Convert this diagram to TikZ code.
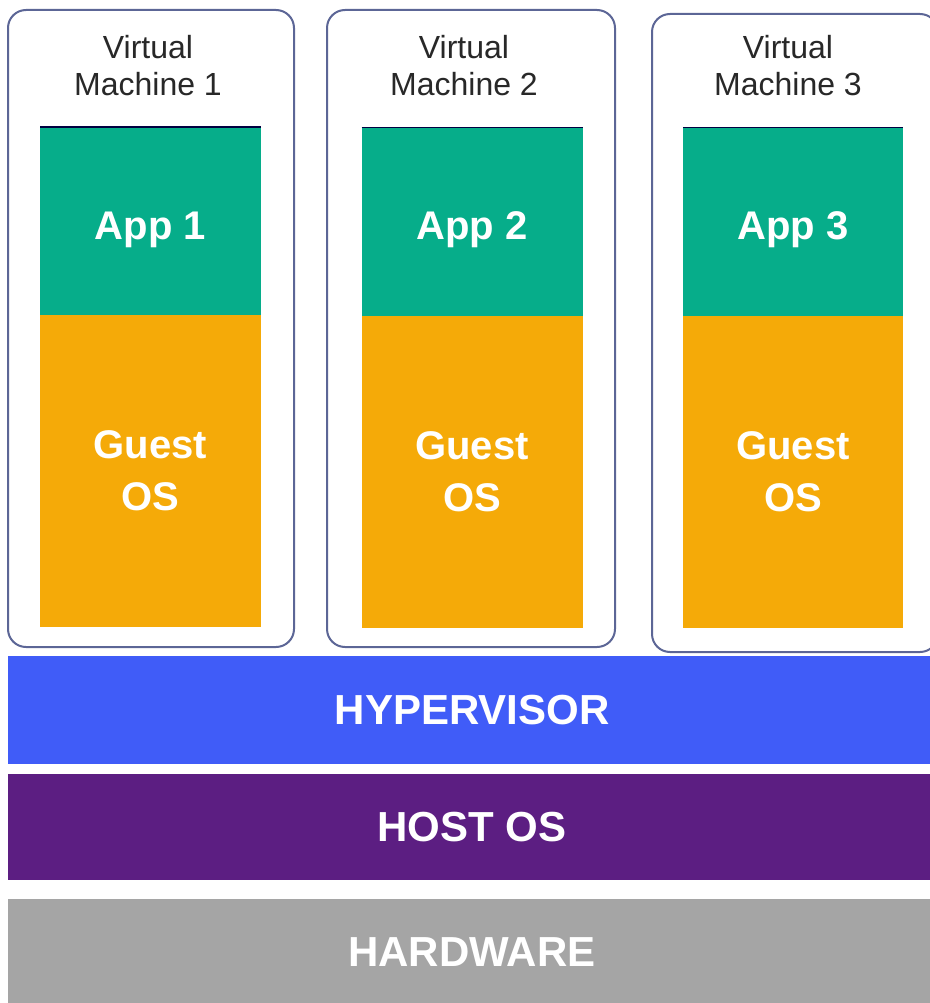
\documentclass[tikz,border=0pt]{standalone}
\usepackage{fontspec}
\setmainfont{Liberation Sans}
\usetikzlibrary{positioning}
\definecolor{vmedge}{RGB}{92,102,150}
\definecolor{titlegray}{RGB}{40,40,40}
\definecolor{appgreen}{RGB}{6,173,138}
\definecolor{osorange}{RGB}{245,170,8}
\definecolor{hypblue}{RGB}{64,92,248}
\definecolor{hostpurple}{RGB}{92,30,130}
\definecolor{hwgray}{RGB}{165,165,165}

\begin{document}
\begin{tikzpicture}[x=1pt,y=-1pt,
        vmbox/.style={draw=vmedge, line width=2pt, rounded corners=18pt, fill=white, inner sep=0pt, outer sep=0pt},
        vmtitle/.style={text=titlegray, font=\fontsize{32}{37}\selectfont, align=center, inner sep=0pt, anchor=north},
        appbox/.style={fill=appgreen, text=white, font=\fontsize{40}{46}\selectfont\bfseries, minimum width=221pt, minimum height=188pt, inner sep=0pt, outer sep=0pt, text height=36pt, text depth=0pt},
        osbox/.style={fill=osorange, text=white, font=\fontsize{40}{52}\selectfont\bfseries, align=center, minimum width=221pt, minimum height=312pt, inner sep=0pt, outer sep=0pt, text depth=0pt},
        appedge/.style={line width=1.5pt, draw=black!75!blue},
        layer/.style={text=white, font=\fontsize{42}{48}\selectfont\bfseries, minimum width=928pt, inner sep=0pt, outer sep=0pt, text depth=0pt}]
        \useasboundingbox (0,0) rectangle (929,1003);

        % virtual machines
        \node[vmbox, minimum width=286pt, minimum height=637pt] (vm1) at (151,328.5) {};
        \node[vmbox, minimum width=288pt, minimum height=637pt] (vm2) at (471,328.5) {};
        \node[vmbox, minimum width=286pt, minimum height=638pt] (vm3) at (795,333) {};

        \node[vmtitle] (title1) at (148,35) {Virtual\\Machine 1};
        \node[vmtitle] (title2) at (464,35) {Virtual\\Machine 2};
        \node[vmtitle] (title3) at (788,35) {Virtual\\Machine 3};

        \node[appbox] (app1) at (150.5,221) {App 1};
        \node[osbox, below=0pt of app1] (os1) {Guest\\OS};
        \draw[appedge] (app1.north west) -- (app1.north east);

        \node[appbox] (app2) at (472,221.5) {App 2};
        \node[osbox, below=0pt of app2] (os2) {Guest\\OS};
        \draw[appedge] (app2.north west) -- (app2.north east);

        \node[appbox, minimum width=220pt] (app3) at (793,221.5) {App 3};
        \node[osbox, minimum width=220pt, below=0pt of app3] (os3) {Guest\\OS};
        \draw[appedge] (app3.north west) -- (app3.north east);

        % layers
        \node[layer, fill=hypblue, minimum height=108pt] (hyp) at (472,710) {HYPERVISOR};
        \node[layer, fill=hostpurple, minimum height=106pt, below=10pt of hyp] (host) {HOST OS};
        \node[layer, fill=hwgray, minimum height=107pt, below=19pt of host] (hw) {HARDWARE};
    \end{tikzpicture}
\end{document}
